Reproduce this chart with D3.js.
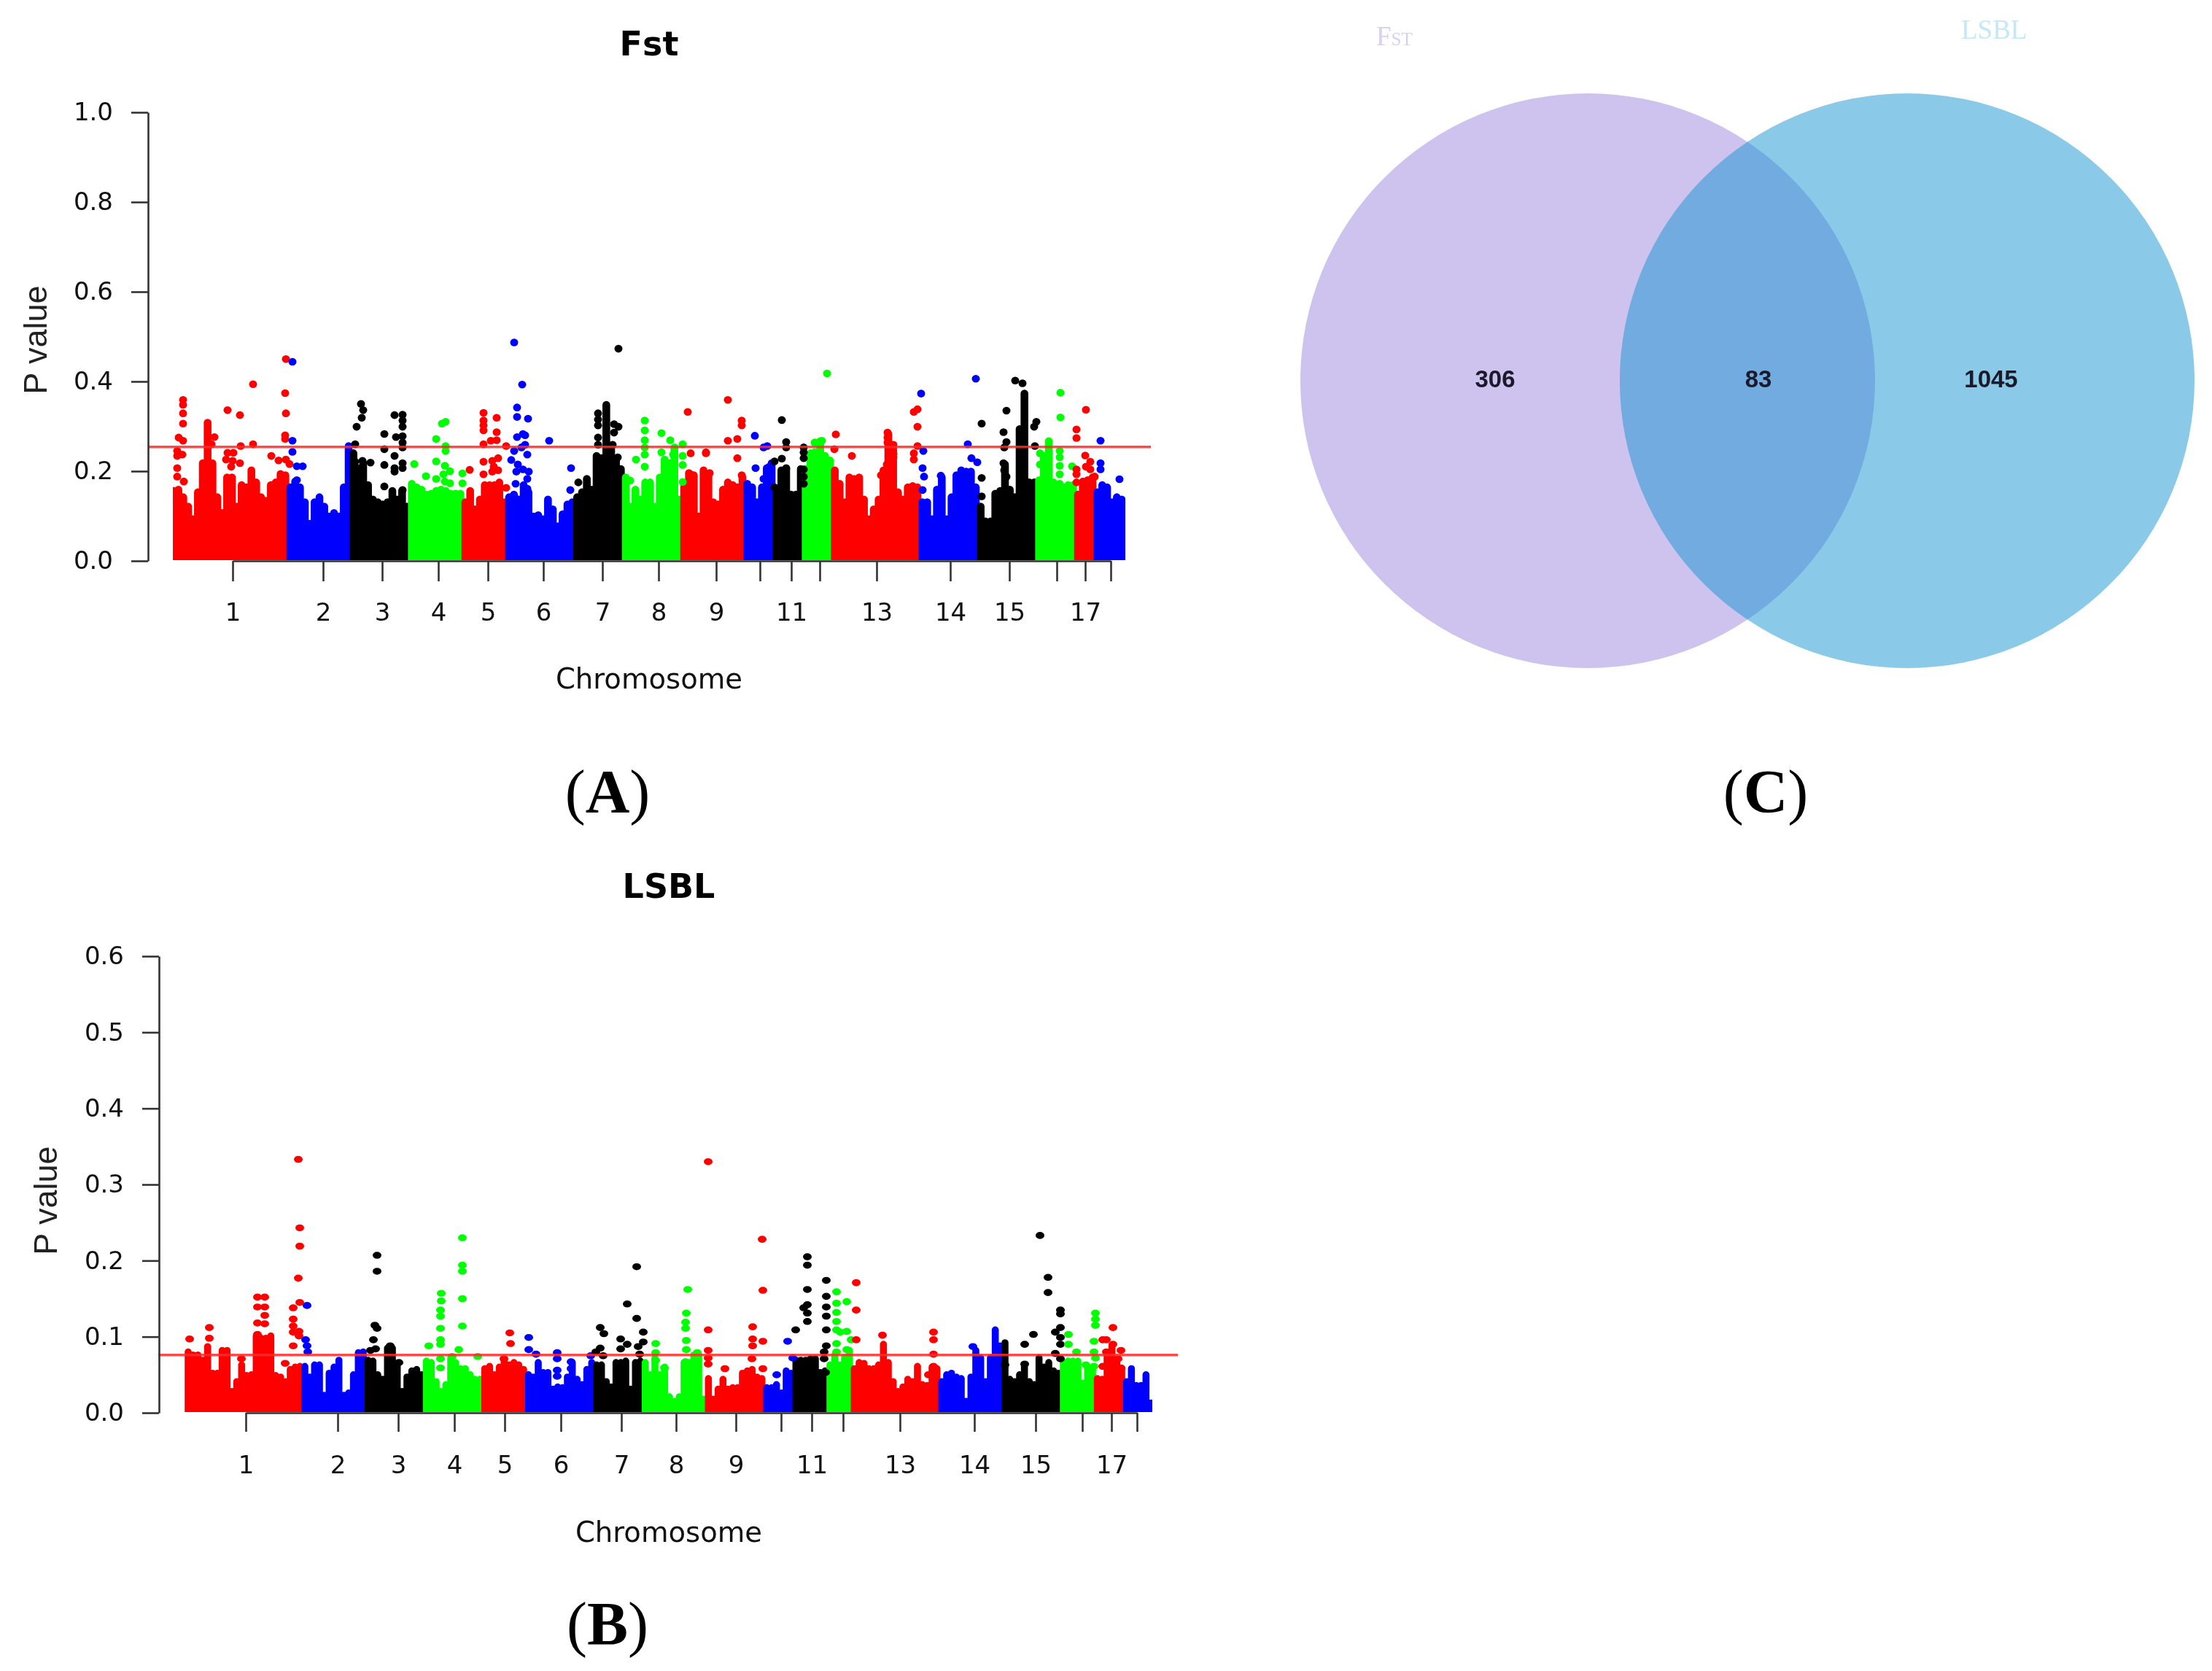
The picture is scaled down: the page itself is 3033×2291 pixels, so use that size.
<!DOCTYPE html>
<html><head><meta charset="utf-8">
<script src="https://cdn.jsdelivr.net/npm/d3@7"></script>
<style>html,body{margin:0;background:#fff}svg{display:block;filter:blur(0.6px)}</style>
</head><body><svg id="fig" width="3033" height="2291"></svg>
<script>
// Shared
const chromPalette = ["#ff0000","#0000ff","#000000","#00ff00"];
const chromLabels = ["1","2","3","4","5","6","7","8","9","","11","","13","14","15","","17",""];
const peakStep = 20/3; // genome units between envelope samples
const yTicksFst = [0,0.2,0.4,0.6,0.8,1.0];
const yTicksLsbl = [0,0.1,0.2,0.3,0.4,0.5,0.6];

// Fst
const fstThreshold = 0.254;
const fstChromEnds = [159,245,321,397,458,549,619,699,780,820,865,901,1021,1103,1184,1234,1265,1305];
const fstChromTicks = [81,205,286,363,431,507,588,665,744,804,847,886,964,1065,1146,1211,1250,1285];
const fstPeakBias = 0.016; // the envelope was read a little high against the dot centres
const fstPeaks = [
.172,.175,.158,.137,.109,.169,.234,.324,.234,.158,.123,.202,.202,.137,.185,.180,.218,.191,.158,.150,.185,.191,.210,.207,.180,.193,.180,.147,.099,.147,.158,.137,.115,.123,.115,.180,.272,.256,.223,.234,.185,.153,.147,.142,.147,.172,.153,.172,.137,.188,.180,.175,.164,
.166,.172,.175,.172,.166,.166,.166,.147,.172,.131,.153,.185,.185,.185,.191,.147,.158,.164,.153,.185,.169,.115,.118,.109,.153,.131,.093,.120,.142,.147,.158,.169,.199,.175,.250,.245,.364,.272,.240,.221,.202,.137,.175,.153,.191,.191,.137,.202,.242,.234,.267,
.153,.180,.212,.207,.115,.218,.207,.147,.142,.175,.191,.185,.180,.202,.188,.180,.147,.180,.223,.234,.169,.218,.221,.164,.164,.221,.221,.256,.250,.283,.250,.240,.218,.188,.147,.202,.199,.202,.153,.109,.131,.153,.218,.299,.267,.169,.153,.180,.183,.180,.147,
.147,.109,.175,.202,.109,.158,.207,.218,.215,.215,.180,.137,.104,.104,.166,.172,.231,.175,.158,.310,.389,.191,.191,.196,.250,.283,.191,.185,.180,.185,.185,.164,.193,.196,.202,.169,.185,.180,.147,.158,.153];
const fstDots = [
[13,.359],[13,.348],[13,.329],[13,.306],[7,.275],[13,.268],[5,.245],[12,.237],[5,.234],[5,.207],[5,.188],[14,.177],
[74,.336],[91,.325],[109,.394],[154,.450],[153,.374],[154,.329],[153,.280],[153,.272],[56,.276],[52,.260],[92,.256],[109,.260],[74,.241],[82,.241],[72,.226],[81,.223],[91,.218],[79,.210],[134,.234],[144,.224],[154,.226],[159,.216],
[163,.444],[163,.268],[163,.243],[169,.211],[177,.211],[169,.180],
[257,.350],[260,.336],[258,.319],[251,.299],[249,.260],[249,.221],[259,.223],[270,.219],[289,.283],[289,.249],[289,.214],[289,.166],[303,.325],[314,.326],[314,.313],[314,.299],[305,.276],[314,.278],[314,.264],[314,.253],[303,.234],[314,.218],[314,.207],[303,.207],[303,.199],[314,.158],
[330,.216],[346,.189],
[360,.272],[368,.306],[373,.310],[373,.256],[373,.245],[360,.222],[372,.212],[379,.200],[370,.193],[360,.183],[372,.177],[379,.173],[396,.195],[396,.173],
[406,.203],[425,.330],[443,.319],[425,.313],[425,.302],[425,.291],[443,.287],[435,.268],[443,.269],[425,.260],[456,.256],[425,.221],[437,.223],[445,.229],[439,.210],[445,.202],[437,.199],[425,.193],[456,.163],
[467,.487],[478,.393],[471,.342],[471,.321],[486,.317],[471,.276],[479,.283],[482,.280],[482,.259],[467,.245],[477,.253],[485,.237],[463,.225],[472,.215],[479,.204],[487,.199],[470,.199],[485,.183],[469,.172],[485,.161],[467,.145],[485,.139],[515,.268],[545,.207],[544,.158],
[610,.473],[555,.175],[582,.329],[582,.315],[582,.302],[582,.275],[582,.259],[604,.305],[610,.299],[604,.286],[609,.231],[602,.259],
[646,.313],[646,.291],[646,.269],[646,.253],[646,.237],[634,.226],[646,.210],[626,.179],[669,.285],[681,.269],[687,.253],[669,.242],[685,.237],
[698,.260],[698,.234],[698,.214],[698,.176],
[705,.332],[709,.240],[709,.193],[760,.359],[779,.313],[779,.302],[760,.268],[773,.272],[730,.242],[730,.240],[773,.229],[779,.191],[735,.196],
[797,.279],[809,.253],[814,.256],[798,.207],[809,.183],[817,.210],[817,.207],
[834,.314],[840,.265],[840,.253],[834,.228],[824,.222],[840,.207],[837,.194],[835,.172],[824,.164],[864,.253],[864,.242],[864,.229],[864,.204],[864,.188],[864,.172],
[896,.418],[879,.264],[889,.268],[879,.242],
[908,.282],[906,.249],[930,.234],[979,.286],[979,.275],[979,.264],[987,.259],[987,.239],[987,.231],[978,.215],[970,.191],[1015,.332],[1020,.338],[1020,.299],[1020,.256],[1015,.240],[1015,.226],
[1025,.373],[1028,.245],[1027,.207],[1029,.188],[1027,.158],
[1100,.406],[1089,.260],[1094,.229],[1102,.220],[1052,.190],
[1154,.402],[1164,.396],[1142,.335],[1108,.306],[1138,.287],[1142,.265],[1139,.253],[1138,.218],[1139,.202],[1142,.188],[1108,.185],[1108,.144],[1183,.310],[1180,.299],[1181,.256],
[1216,.375],[1216,.320],[1215,.245],[1215,.231],[1215,.212],[1215,.193],[1215,.172],[1232,.211],[1188,.240],[1188,.215],
[1251,.337],[1238,.293],[1238,.274],[1250,.235],[1257,.221],[1251,.210],[1257,.204],[1238,.204],[1238,.193],[1238,.175],[1263,.188],
[1271,.268],[1271,.218],[1271,.204],[1297,.182]];

// LSBL
const lsblThreshold = 0.076;
const lsblChromEnds = [157,245,324,402,462,555,625,707,789,830,877,910,1031,1117,1198,1245,1280,1322];
const lsblChromTicks = [79,205,288,365,434,511,594,669,751,813,855,898,976,1078,1162,1226,1266,1301];
const lsblPeakBias = 0.009;
const lsblPeaks = [
.089,.085,.085,.078,.096,.061,.061,.091,.091,.037,.050,.072,.058,.059,.110,.107,.107,.110,.058,.056,.050,.066,.069,.070,.070,.056,.072,.072,.032,.061,.069,.078,.032,.035,.059,.088,.089,.078,.077,.059,.053,.094,.094,.074,.037,.056,.064,.066,.059,.077,.075,.050,.037,
.046,.081,.075,.067,.067,.059,.053,.053,.067,.070,.059,.069,.078,.072,.075,.072,.066,.059,.056,.075,.062,.062,.040,.043,.042,.056,.075,.053,.046,.066,.075,.072,.072,.050,.043,.075,.075,.077,.040,.075,.077,.075,.059,.081,.059,.069,.030,.024,.030,.075,.075,
.085,.085,.027,.054,.027,.040,.053,.040,.042,.042,.061,.064,.066,.056,.054,.042,.042,.046,.035,.064,.061,.078,.078,.078,.080,.080,.062,.064,.072,.085,.072,.081,.091,.067,.075,.074,.067,.067,.072,.099,.075,.050,.037,.043,.053,.050,.070,.046,.045,.069,.067,
.050,.059,.061,.056,.054,.024,.056,.091,.081,.050,.081,.118,.097,.101,.053,.050,.059,.072,.050,.046,.081,.069,.075,.064,.061,.075,.077,.077,.077,.048,.069,.067,.054,.053,.085,.097,.078,.067,.050,.067,.045,.045,.059,.022];
const lsblDots = [
[151,.333],[153,.243],[153,.219],[151,.177],[153,.145],[144,.138],[144,.123],[144,.114],[144,.106],[152,.107],[152,.101],[144,.088],[2,.097],[29,.112],[29,.098],[95,.152],[105,.152],[95,.139],[105,.139],[105,.128],[95,.118],[105,.117],[95,.103],[105,.096],[133,.065],[73,.071],
[163,.141],[161,.096],[163,.088],[164,.080],
[259,.207],[259,.186],[256,.115],[259,.111],[254,.096],[257,.084],[250,.082],[277,.088],[277,.080],[289,.066],
[330,.088],[347,.157],[347,.147],[346,.135],[346,.127],[346,.111],[346,.096],[346,.090],[346,.071],[346,.059],
[376,.230],[376,.194],[376,.186],[376,.150],[376,.114],[371,.083],[362,.074],[397,.074],[362,.058],
[441,.105],[442,.091],[433,.071],
[467,.099],[467,.083],[477,.077],[506,.079],[506,.071],[506,.056],[506,.048],[525,.067],[525,.058],[552,.075],
[565,.112],[570,.104],[565,.085],[559,.080],[569,.075],[593,.097],[602,.090],[593,.084],[602,.143],[615,.192],[615,.124],[624,.106],[624,.093],[617,.087],[619,.077],
[641,.091],[641,.079],[641,.069],[685,.162],[683,.131],[682,.119],[682,.111],[683,.095],[683,.083],[682,.067],[653,.059],
[713,.330],[713,.109],[713,.082],[713,.072],[713,.064],[774,.113],[774,.097],[774,.088],[773,.071],[787,.228],[788,.161],[788,.094],[788,.058],[736,.058],
[698,.079],[807,.050],[822,.094],[829,.072],
[849,.205],[849,.194],[849,.162],[849,.142],[844,.138],[849,.131],[849,.120],[833,.109],[875,.174],[875,.153],[875,.139],[875,.127],[875,.109],[875,.088],[872,.080],[872,.071],[874,.053],
[889,.159],[889,.144],[889,.132],[889,.120],[889,.109],[894,.106],[903,.146],[903,.107],[909,.096],[889,.091],[889,.080],[903,.083],
[916,.171],[916,.135],[916,.096],[952,.102],[1022,.106],[1022,.096],[1022,.077],[1022,.061],[1015,.050],
[1076,.087],
[1168,.233],[1179,.178],[1179,.158],[1196,.135],[1196,.130],[1196,.112],[1189,.106],[1196,.099],[1196,.090],[1159,.103],[1147,.090],[1189,.078],[1196,.071],[1120,.063],[1147,.064],
[1207,.103],[1207,.090],[1218,.080],[1231,.063],[1242,.061],[1244,.131],[1244,.123],[1244,.115],[1242,.094],[1242,.080],[1244,.072],
[1268,.112],[1254,.096],[1259,.096],[1268,.090],[1279,.082],[1259,.080],[1265,.080],[1254,.061],[1275,.071],[1279,.059]];

// Venn
const vennSets = ["Fst","LSBL"];
const vennCounts = [306,83,1045];
const vennColors = ["#cec2ee","#8acae8","#71abe0"];

const svg = d3.select("#fig");
const tickFont = "'DejaVu Sans'";

function manhattan(cfg){
  const g = svg.append("g");
  const x = d3.scaleLinear().domain([0,1300]).range(cfg.xRange);
  const y = d3.scaleLinear().domain([cfg.yTicks[0],cfg.yTicks[cfg.yTicks.length-1]]).range(cfg.yRange);
  const chromOf = p => Math.min(d3.bisectLeft(cfg.ends,p),cfg.ends.length-1);
  const clipId = "clip"+cfg.id;
  svg.append("clipPath").attr("id",clipId).append("rect")
    .attr("x",x(cfg.start)).attr("y",0)
    .attr("width",x(cfg.ends[cfg.ends.length-1])-x(cfg.start)).attr("height",y(0)-1);
  const marks = g.append("g").attr("clip-path",`url(#${clipId})`);
  // each envelope sample: a solid stack of points from the axis up to the peak
  const samples = cfg.peaks.map((v,i)=>({p:i*peakStep,v:Math.max(v-cfg.bias,0)}));
  samples.sort((a,b)=>chromOf(a.p)-chromOf(b.p));
  marks.selectAll("line").data(samples).join("line")
    .attr("x1",d=>x(d.p)).attr("x2",d=>x(d.p)).attr("y1",y(0)).attr("y2",d=>y(d.v))
    .attr("stroke",d=>chromPalette[chromOf(d.p)%4]).attr("stroke-width",cfg.ry*2).attr("stroke-linecap","round");
  g.append("g").selectAll("ellipse").data(cfg.dots).join("ellipse")
    .attr("cx",d=>x(d[0])).attr("cy",d=>y(d[1])).attr("rx",cfg.rx).attr("ry",cfg.ry).attr("fill",d=>chromPalette[chromOf(d[0])%4]);
  // threshold
  g.append("line").attr("x1",cfg.lineX[0]).attr("x2",cfg.lineX[1])
    .attr("y1",y(cfg.threshold)).attr("y2",y(cfg.threshold))
    .attr("stroke","#ff2a2a").attr("stroke-width",3.5).attr("stroke-opacity",.85);
  // axes
  const ya = g.append("g").attr("transform",`translate(${cfg.axisX},0)`)
    .call(d3.axisLeft(y).tickValues(cfg.yTicks).tickFormat(d3.format(".1f")).tickSize(23).tickSizeOuter(0).tickPadding(25));
  const t0 = cfg.ticks[0], tn = cfg.ticks[cfg.ticks.length-1];
  const xa = g.append("g").attr("transform",`translate(0,${y(0)})`)
    .call(d3.axisBottom(x.copy().domain([t0,tn]).range([x(t0),x(tn)]))
      .tickValues(cfg.ticks).tickFormat((d,i)=>chromLabels[i]).tickSize(cfg.tickLen).tickSizeOuter(0).tickPadding(cfg.labelPad));
  [ya,xa].forEach(a=>{
    a.selectAll("path,line").attr("stroke","#333").attr("stroke-width",2.6);
    a.selectAll("text").attr("font-family",tickFont).attr("font-size",34).attr("fill","#111");
  });
  g.append("text").attr("x",cfg.titleX).attr("y",cfg.titleY).attr("text-anchor","middle")
    .attr("font-family",tickFont).attr("font-weight","bold").attr("font-size",46).text(cfg.title);
  g.append("text").attr("x",cfg.titleX).attr("y",cfg.xLabelY).attr("text-anchor","middle")
    .attr("font-family",tickFont).attr("font-size",38.6).attr("fill","#111").text("Chromosome");
  g.append("text").attr("transform",`translate(${cfg.yLabelX},${cfg.yLabelY}) rotate(-90)`)
    .attr("text-anchor","middle").attr("font-family","'Liberation Sans'").attr("font-size",45).attr("fill","#222").text("P value");
}

manhattan({id:"A",title:"Fst",peaks:fstPeaks,bias:fstPeakBias,dots:fstDots,ends:fstChromEnds,ticks:fstChromTicks,threshold:fstThreshold,
  yTicks:yTicksFst,xRange:[238,1538],yRange:[769,154],start:-1,rx:5.5,ry:5.3,lineX:[203,1578],axisX:203,tickLen:28,labelPad:30,
  titleX:890,titleY:76,xLabelY:944,yLabelX:64,yLabelY:466});
manhattan({id:"B",title:"LSBL",peaks:lsblPeaks,bias:lsblPeakBias,dots:lsblDots,ends:lsblChromEnds,ticks:lsblChromTicks,threshold:lsblThreshold,
  yTicks:yTicksLsbl,xRange:[258,1558],yRange:[1937,1311],start:-5,rx:6,ry:4.8,lineX:[217,1615],axisX:218,tickLen:26,labelPad:33,
  titleX:917,titleY:1231,xLabelY:2114,yLabelX:78,yLabelY:1646});

// Venn diagram
const vx = d3.scaleLinear().domain([0,1]).range([2177,2615]);
const vennCy = 522, vennR = 394;
const vg = svg.append("g");
svg.append("clipPath").attr("id","vennClip").append("circle").attr("cx",vx(0)).attr("cy",vennCy).attr("r",vennR);
vg.append("circle").attr("cx",vx(0)).attr("cy",vennCy).attr("r",vennR).attr("fill",vennColors[0]);
vg.append("circle").attr("cx",vx(1)).attr("cy",vennCy).attr("r",vennR).attr("fill",vennColors[1]);
vg.append("circle").attr("cx",vx(1)).attr("cy",vennCy).attr("r",vennR).attr("fill",vennColors[2]).attr("clip-path","url(#vennClip)");
const vennX = [2050,2411,2730];
vg.selectAll("text.n").data(vennCounts).join("text").attr("class","n")
  .attr("x",(d,i)=>vennX[i]).attr("y",531).attr("text-anchor","middle")
  .attr("font-family","'Liberation Sans'").attr("font-weight","bold").attr("font-size",33).attr("fill","#1a1a2a").text(d=>d);
const fl = vg.append("text").attr("x",1887).attr("y",62).attr("font-family","'Liberation Serif'").attr("font-size",37).attr("fill","#d8d0f2");
fl.append("tspan").text("F");
fl.append("tspan").attr("font-size",25).text("ST");
vg.append("text").attr("x",2689).attr("y",53).attr("font-family","'Liberation Serif'").attr("font-size",37).attr("fill","#c5e8f8").text(vennSets[1]);

// Panel letters
[["A",833,1114],["B",833,2255],["C",2421,1114]].forEach(([l,xp,yp])=>{
  const t = svg.append("text").attr("x",xp).attr("y",yp).attr("text-anchor","middle")
    .attr("font-family","'Liberation Serif'").attr("font-size",84).attr("fill","#000");
  t.append("tspan").text("(");
  t.append("tspan").attr("font-weight","bold").text(l);
  t.append("tspan").text(")");
});
</script></body></html>
